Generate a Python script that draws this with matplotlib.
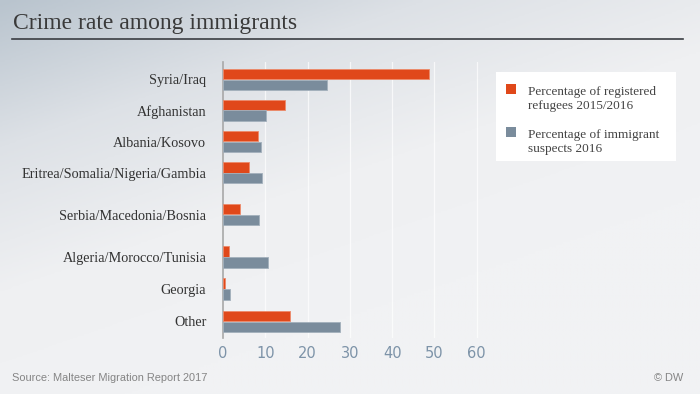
import numpy as np
import matplotlib
matplotlib.use('Agg')
import matplotlib.pyplot as plt
from matplotlib.colors import LinearSegmentedColormap
from matplotlib.patches import Rectangle

# data (percent)
regions = ['Syria/Iraq', 'Afghanistan', 'Albania/Kosovo', 'Eritrea/Somalia/Nigeria/Gambia',
           'Serbia/Macedonia/Bosnia', 'Algeria/Morocco/Tunisia', 'Georgia', 'Other']
refugees = [48.6, 14.6, 8.3, 6.2, 4.0, 1.5, 0.5, 15.8]
suspects = [24.7, 10.1, 8.9, 9.3, 8.4, 10.7, 1.7, 27.6]
x_ticks = [0, 10, 20, 30, 40, 50, 60]
legend_labels = ['Percentage of registered\nrefugees 2015/2016',
                 'Percentage of immigrant\nsuspects 2016']

# layout: rows are not evenly spaced in the original
row_pos = [0, 0.99, 1.99, 2.99, 4.33, 5.69, 6.72, 7.76]

orange = '#e0481a'
grey = '#7a8c9c'
serif = ['Liberation Serif', 'DejaVu Serif']

fig = plt.figure(figsize=(7, 3.94), dpi=100)

# gradient background
bg = fig.add_axes([0, 0, 1, 1], zorder=-10)
xx, yy = np.meshgrid(np.linspace(0, 1, 300), np.linspace(0, 1, 170))
t = np.clip(0.55 * xx + 0.9 * yy, 0, 1)
cmap = LinearSegmentedColormap.from_list('bg', ['#b9c4ce', '#dde1e6', '#eff0f2', '#f1f2f4'])
bg.imshow(t, cmap=cmap, aspect='auto', extent=[0, 1, 0, 1], origin='upper')
bg.set_axis_off()

W, H = 700, 394
ax = fig.add_axes([223 / W, 1 - 338 / H, (481 - 223) / W, (338 - 62) / H])
ax.patch.set_alpha(0)

h = 0.34
pos = np.array(row_pos)
ax.barh(pos - h / 2 - 0.005, refugees, height=h, color=orange, edgecolor='#ec8a6a', linewidth=0.6, zorder=3)
ax.barh(pos + h / 2 + 0.005, suspects, height=h, color=grey, edgecolor='#a3b0bc', linewidth=0.6, zorder=3)

ax.set_xlim(0, 61)
ax.set_ylim(8.29, -0.56)
ax.set_xticks(x_ticks)
ax.set_xticklabels([str(v) for v in x_ticks], fontsize=10.5, color='#7d93a8', family='DejaVu Sans')
ax.set_yticks(pos)
ax.set_yticklabels(regions, fontsize=10.3, color='#333333', family=serif)
ax.tick_params(axis='both', length=0)
ax.tick_params(axis='y', pad=12)
ax.tick_params(axis='x', pad=6)
for v in x_ticks[1:]:
    ax.axvline(v, color='white', linewidth=0.9, alpha=0.7, zorder=1)
for s in ['top', 'right', 'bottom']:
    ax.spines[s].set_visible(False)
ax.spines['left'].set_color('#a8a8a8')
ax.spines['left'].set_linewidth(1.2)

# title and rule
fig.text(13 / W, 1 - 23 / H, 'Crime rate among immigrants', fontsize=17, color='#3a3a3a',
         family=serif, va='center', ha='left')
fig.add_artist(plt.Line2D([12 / W, 683 / W], [1 - 39 / H, 1 - 39 / H], color='#3a3d42', linewidth=1.2))

# legend box drawn by hand
fig.add_artist(Rectangle((496 / W, 1 - 161 / H), 180 / W, 89 / H, facecolor='white',
                         edgecolor='none', transform=fig.transFigure))
for i, (lab, c) in enumerate(zip(legend_labels, [orange, grey])):
    y0 = 84 + i * 43
    fig.add_artist(Rectangle((506 / W, 1 - (y0 + 10) / H), 10 / W, 10 / H, facecolor=c,
                             edgecolor='none', transform=fig.transFigure))
    fig.text(528 / W, 1 - (y0 + 2) / H, lab, fontsize=9.5, color='#444444', family=serif,
             va='top', ha='left', linespacing=1.25)

# footer
fig.text(12 / W, 1 - 378 / H, 'Source: Malteser Migration Report 2017', fontsize=7.9,
         color='#858585', family='Liberation Sans', va='center', ha='left')
fig.text(683 / W, 1 - 378 / H, '© DW', fontsize=7.9, color='#858585',
         family='Liberation Sans', va='center', ha='right')

fig.savefig('out.png', dpi=100)
